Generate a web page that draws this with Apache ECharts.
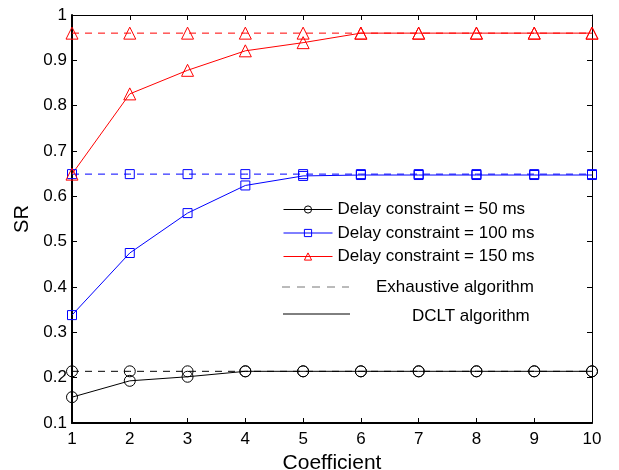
<!DOCTYPE html>
<html>
<head>
<meta charset="utf-8">
<script src="https://cdn.jsdelivr.net/npm/echarts@6/dist/echarts.min.js"></script>
<style>html,body{margin:0;padding:0;background:#fff;}#c{width:619px;height:470px;}</style>
</head>
<body>
<div id="c"></div>
<script>
const coefficients = [1, 2, 3, 4, 5, 6, 7, 8, 9, 10];
const yTicks = [0.1, 0.2, 0.3, 0.4, 0.5, 0.6, 0.7, 0.8, 0.9, 1];
const exh50 = [0.214, 0.214, 0.214, 0.214, 0.214, 0.214, 0.214, 0.214, 0.214, 0.214];
const exh100 = [0.649, 0.649, 0.649, 0.649, 0.649, 0.649, 0.649, 0.649, 0.649, 0.649];
const exh150 = [0.960, 0.960, 0.960, 0.960, 0.960, 0.960, 0.960, 0.960, 0.960, 0.960];
const dclt50 = [0.157, 0.193, 0.202, 0.214, 0.214, 0.214, 0.214, 0.214, 0.214, 0.214];
const dclt100 = [0.338, 0.475, 0.563, 0.624, 0.645, 0.647, 0.647, 0.647, 0.647, 0.647];
const dclt150 = [0.649, 0.826, 0.878, 0.921, 0.939, 0.960, 0.960, 0.960, 0.960, 0.960];
const legendNames = ['Delay constraint = 50 ms', 'Delay constraint = 100 ms', 'Delay constraint = 150 ms'];
const extraLegend = ['Exhaustive algorithm', 'DCLT algorithm'];

const pairs = arr => coefficients.map((c, i) => [c, arr[i]]);
const font = 'Liberation Sans, Arial, sans-serif';

function mk(name, data, color, symbol, size, dashed) {
  return {
    name: name, type: 'line', data: pairs(data),
    symbol: symbol, symbolSize: size, showSymbol: true,
    lineStyle: { color: color, width: 1, type: dashed ? [7, 6] : 'solid' },
    itemStyle: { color: 'transparent', borderColor: color, borderWidth: 1 },
    emphasis: { disabled: true }, animation: false
  };
}

const chart = echarts.init(document.getElementById('c'));
chart.setOption({
  animation: false,
  grid: { left: 72, top: 15, width: 520, height: 408, containLabel: false, outerBoundsMode: 'none' },
  legend: {
    data: legendNames, orient: 'vertical', left: 278, top: 196,
    itemWidth: 49, itemHeight: 9, itemGap: 6.5,
    lineStyle: { width: 1 },
    itemStyle: { borderWidth: 1 },
    textStyle: { fontFamily: font, fontSize: 17, lineHeight: 17, color: '#000', padding: [0, 0, 0, 0] },
    selectedMode: false
  },
  xAxis: [
    { type: 'value', min: 1, max: 10, interval: 1, position: 'bottom',
      name: 'Coefficient', nameLocation: 'middle', nameGap: 27,
      nameTextStyle: { fontFamily: font, fontSize: 21, color: '#000' },
      axisLine: { lineStyle: { color: '#000', width: 2 } },
      axisTick: { inside: true, length: 5, lineStyle: { color: '#000', width: 1 } },
      axisLabel: { fontFamily: font, fontSize: 17, color: '#000', margin: 8 },
      splitLine: { show: false } },
    { type: 'value', min: 1, max: 10, interval: 1, position: 'top',
      axisLine: { lineStyle: { color: '#000', width: 1 } },
      axisTick: { inside: true, length: 5, lineStyle: { color: '#000', width: 1 } },
      axisLabel: { show: false }, splitLine: { show: false } }
  ],
  yAxis: [
    { type: 'value', min: 0.1, max: 1, interval: 0.1, position: 'left',
      name: 'SR', nameLocation: 'middle', nameGap: 40, nameRotate: 90,
      nameTextStyle: { fontFamily: font, fontSize: 20, color: '#000' },
      axisLine: { show: true, lineStyle: { color: '#000', width: 2 } },
      axisTick: { show: true, inside: true, length: 5, lineStyle: { color: '#000', width: 1 } },
      axisLabel: { fontFamily: font, fontSize: 17, color: '#000', margin: 5,
        formatter: v => String(Math.round(v * 10) / 10) },
      splitLine: { show: false } },
    { type: 'value', min: 0.1, max: 1, interval: 0.1, position: 'right',
      axisLine: { show: true, lineStyle: { color: '#000', width: 1 } },
      axisTick: { show: true, inside: true, length: 5, lineStyle: { color: '#000', width: 1 } },
      axisLabel: { show: false }, splitLine: { show: false } }
  ],
  series: [
    mk('exh50', exh50, '#000', 'circle', 11, true),
    mk('exh100', exh100, '#0000ff', 'rect', 9, true),
    mk('exh150', exh150, '#ff0000', 'triangle', 12, true),
    mk(legendNames[0], dclt50, '#000', 'circle', 11, false),
    mk(legendNames[1], dclt100, '#0000ff', 'rect', 9, false),
    mk(legendNames[2], dclt150, '#ff0000', 'triangle', 12, false)
  ],
  graphic: [
    { type: 'line', shape: { x1: 282, y1: 287, x2: 349, y2: 287 },
      style: { stroke: '#777', lineWidth: 1, lineDash: [8, 7] } },
    { type: 'text', x: 376, y: 287,
      style: { text: extraLegend[0], fontFamily: font, fontSize: 17, fill: '#000', verticalAlign: 'middle' } },
    { type: 'line', shape: { x1: 283, y1: 314, x2: 350, y2: 314 },
      style: { stroke: '#000', lineWidth: 1 } },
    { type: 'text', x: 412, y: 316,
      style: { text: extraLegend[1], fontFamily: font, fontSize: 17, fill: '#000', verticalAlign: 'middle' } }
  ]
});
</script>
</body>
</html>
